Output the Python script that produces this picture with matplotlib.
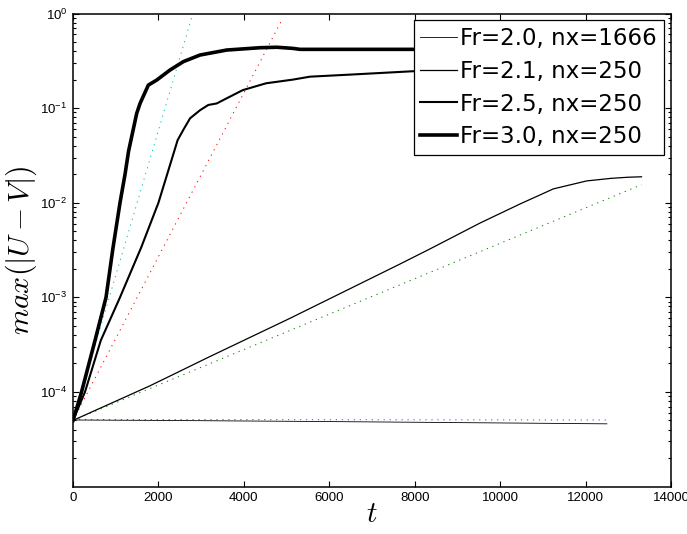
import matplotlib
matplotlib.use("Agg")
import matplotlib.pyplot as plt
from matplotlib.ticker import FixedLocator, LogLocator, LogFormatterSciNotation, NullFormatter

# Simulation output: max(|U-V|) versus time for each run
t_fr20 = [0, 2000, 4000, 6000, 8000, 10000, 12500]
v_fr20 = [5.05e-5, 5.0e-5, 4.93e-5, 4.86e-5, 4.78e-5, 4.70e-5, 4.60e-5]

t_fr21 = [0, 1800, 3200, 5080, 7656, 8358, 9530, 10466, 11246, 12026, 12600, 13000, 13310]
v_fr21 = [5.0e-5, 1.16e-4, 2.36e-4, 6.0e-4, 2.25e-3, 3.25e-3, 6.1e-3, 9.7e-3,
          1.40e-2, 1.70e-2, 1.81e-2, 1.86e-2, 1.88e-2]

t_fr25 = [0, 280, 650, 1100, 1600, 2000, 2450, 2583, 2740, 2973, 3168, 3364, 3598,
          3975, 4520, 5144, 5550, 6485, 7930, 9500, 11000, 12500, 13310]
v_fr25 = [5e-5, 1e-4, 3.5e-4, 1e-3, 3.4e-3, 1.0e-2, 4.6e-2, 5.9e-2, 7.8e-2, 9.5e-2,
          0.108, 0.112, 0.127, 0.155, 0.183, 0.200, 0.215, 0.226, 0.245, 0.252,
          0.256, 0.259, 0.260]

t_fr30 = [0, 200, 515, 773, 930, 1100, 1218, 1300, 1491, 1569, 1763, 1960, 2272,
          2583, 2973, 3598, 4379, 4769, 5144, 5315, 7000, 9000, 11000, 13310]
v_fr30 = [5e-5, 1e-4, 3.5e-4, 1e-3, 3.2e-3, 1e-2, 2e-2, 3.5e-2, 8.8e-2, 0.112,
          0.175, 0.198, 0.253, 0.310, 0.364, 0.411, 0.435, 0.440, 0.428, 0.418,
          0.418, 0.418, 0.418, 0.418]

# Exponential growth-rate fits (straight lines on the log axis)
t_fit20 = [0, 12500]
v_fit20 = [5.12e-5, 5.05e-5]
t_fit21 = [0, 13310]
v_fit21 = [5.0e-5, 1.55e-2]
t_fit25 = [0, 4910]
v_fit25 = [5.0e-5, 0.89]
t_fit30 = [0, 2800]
v_fit30 = [5.0e-5, 0.98]

labels = ["Fr=2.0, nx=1666", "Fr=2.1, nx=250", "Fr=2.5, nx=250", "Fr=3.0, nx=250"]

plt.rcParams["font.family"] = ["Liberation Sans", "DejaVu Sans"]
plt.rcParams["mathtext.fontset"] = "custom"
plt.rcParams["mathtext.rm"] = "Liberation Sans"
plt.rcParams["mathtext.it"] = "Liberation Sans:italic"
plt.rcParams["lines.scale_dashes"] = False

fig = plt.figure(figsize=(6.87, 5.34), dpi=100)
ax = fig.add_axes([0.1063, 0.0889, 0.8704, 0.8858])

dot = (0, (0.9, 3.4))
ax.plot(t_fit20, v_fit20, color=(0.3, 0.3, 1), lw=0.7, linestyle=dot)
ax.plot(t_fit21, v_fit21, color=(0, 0.5, 0), lw=0.7, linestyle=dot)
ax.plot(t_fit25, v_fit25, color=(1, 0, 0), lw=0.7, linestyle=dot)
ax.plot(t_fit30, v_fit30, color=(0, 0.75, 0.75), lw=0.7, linestyle=dot)

h1, = ax.plot(t_fr20, v_fr20, color="black", lw=0.6)
h2, = ax.plot(t_fr21, v_fr21, color="black", lw=0.9)
h3, = ax.plot(t_fr25, v_fr25, color="black", lw=1.5)
h4, = ax.plot(t_fr30, v_fr30, color="black", lw=2.6)

ax.set_yscale("log")
ax.set_xlim(0, 14000)
ax.set_ylim(1e-5, 1e0)
ax.set_xticks(range(0, 14001, 2000))
ax.yaxis.set_major_locator(FixedLocator([1e-4, 1e-3, 1e-2, 1e-1, 1e0]))
ax.yaxis.set_major_formatter(LogFormatterSciNotation())
ax.yaxis.set_minor_locator(LogLocator(base=10, subs=range(2, 10), numticks=20))
ax.yaxis.set_minor_formatter(NullFormatter())

ax.tick_params(which="both", direction="in", top=True, right=True, width=0.8,
               labelsize=9.5, pad=4)
ax.tick_params(which="major", length=4)
ax.tick_params(which="minor", length=2)
for s in ax.spines.values():
    s.set_linewidth(1.1)

ax.set_xlabel(r"$t$", fontsize=21, math_fontfamily="cm", labelpad=-3)
ax.set_ylabel(r"$max(|U-V|)$", fontsize=21.5, math_fontfamily="cm", labelpad=1)

leg = ax.legend([h1, h2, h3, h4], labels, loc="upper right",
                prop={"family": "DejaVu Sans", "size": 16.5},
                handlelength=1.6, handletextpad=0.15, borderpad=0.3,
                labelspacing=0.42, borderaxespad=0.3, fancybox=False,
                framealpha=1, edgecolor="black")
leg.get_frame().set_linewidth(0.9)

fig.savefig("out.png", dpi=100)
